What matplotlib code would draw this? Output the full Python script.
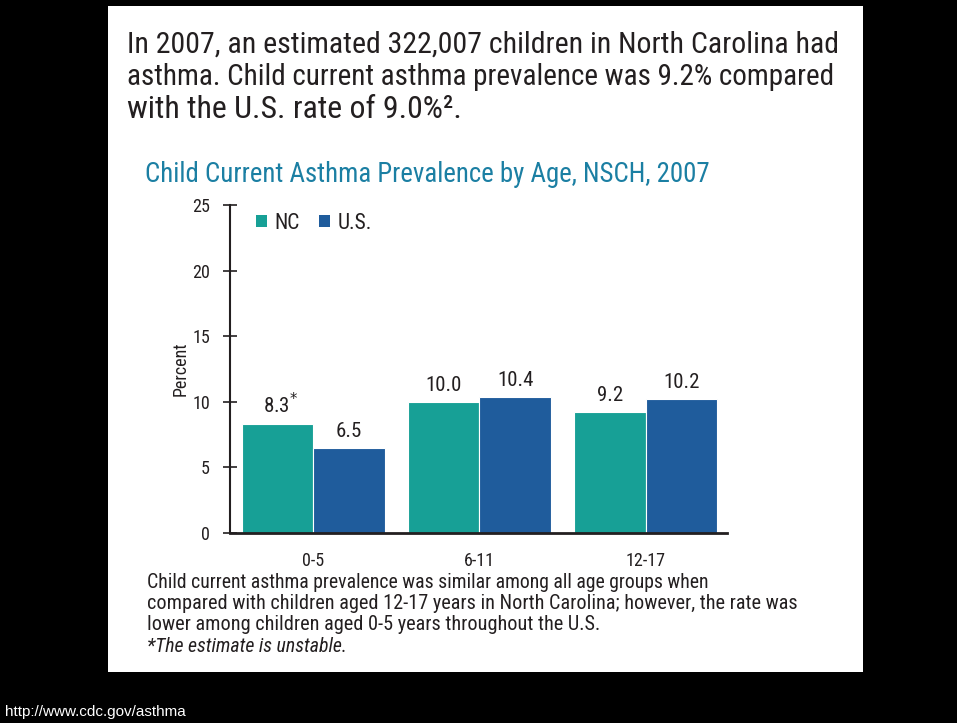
import matplotlib
matplotlib.use("Agg")
import matplotlib.pyplot as plt
from matplotlib import font_manager
from matplotlib.patches import Rectangle, Patch

# Data
age_groups = ["0-5", "6-11", "12-17"]
nc_values = [8.3, 10.0, 9.2]
us_values = [6.5, 10.4, 10.2]
nc_flags = ["*", "", ""]
y_ticks = [0, 5, 10, 15, 20, 25]

available = {f.name for f in font_manager.fontManager.ttflist}
preferred = ["Liberation Sans Narrow", "Roboto Condensed", "Open Sans Condensed",
             "Noto Sans Condensed", "Lato", "Roboto", "Open Sans"]
body_font = next((f for f in preferred if f in available), "DejaVu Sans")
plt.rcParams["font.family"] = [body_font, "DejaVu Sans"]

NC_COLOR = "#17a096"
US_COLOR = "#1f5c9c"
TEXT = "#231f20"
TITLE_COLOR = "#1b7fa3"

W, H = 957, 723
fig = plt.figure(figsize=(W / 100, H / 100), dpi=100, facecolor="black")
renderer = fig.canvas.get_renderer()


def fitted_text(x_px, y_px, s, target_px, size, **kw):
    """Place a line of text and scale its size so it spans target_px."""
    t = fig.text(x_px / W, 1 - y_px / H, s, fontsize=size, va="center", ha="left",
                 zorder=3, **kw)
    w = t.get_window_extent(renderer).width
    if w > 0:
        t.set_fontsize(size * target_px / w)
    return t


# White page panel
fig.patches.append(Rectangle((108 / W, 1 - 672 / H), (863 - 108) / W, (672 - 6) / H,
                             transform=fig.transFigure, facecolor="white",
                             edgecolor="none", zorder=-5))

# Header paragraph
header = ["In 2007, an estimated 322,007 children in North Carolina had",
          "asthma. Child current asthma prevalence was 9.2% compared",
          "with the U.S. rate of 9.0%\u00b2."]
header_w = [713, 708, 335]
for i, (line, tw) in enumerate(zip(header, header_w)):
    fitted_text(127, 45 + 32 * i, line, tw, 19, color=TEXT)

fitted_text(145, 175, "Child Current Asthma Prevalence by Age, NSCH, 2007", 565, 17,
            color=TITLE_COLOR)

# Chart axes
ax = fig.add_axes([230 / W, 1 - 533 / H, (727 - 230) / W, (533 - 205) / H])
ax.set_zorder(2)
ax.set_facecolor("none")

width = 0.43
x = list(range(len(age_groups)))
nc_x = [i - width / 2 for i in x]
us_x = [i + width / 2 for i in x]
ax.bar(nc_x, nc_values, width=width, color=NC_COLOR, edgecolor="white", linewidth=0.8, zorder=2)
ax.bar(us_x, us_values, width=width, color=US_COLOR, edgecolor="white", linewidth=0.8, zorder=2)

for xi, v, flag in zip(nc_x, nc_values, nc_flags):
    ax.annotate(f"{v:.1f}" + (f"$^{{{flag}}}$" if flag else ""), (xi, v),
                xytext=(2 if flag else 0, 5), textcoords="offset points",
                ha="center", va="bottom", fontsize=15, color=TEXT)
for xi, v in zip(us_x, us_values):
    ax.annotate(f"{v:.1f}", (xi, v), xytext=(0, 5), textcoords="offset points",
                ha="center", va="bottom", fontsize=15, color=TEXT)

ax.set_xlim(-0.5, 2.49)
ax.set_ylim(0, 25)
ax.set_yticks(y_ticks)
ax.set_xticks(x)
ax.set_xticklabels(age_groups)
ax.tick_params(axis="x", length=0, pad=14, labelsize=13, colors=TEXT)
ax.tick_params(axis="y", direction="inout", length=10, width=1.2, pad=9.5,
               labelsize=13, colors=TEXT)
for side in ["top", "right"]:
    ax.spines[side].set_visible(False)
ax.spines["left"].set_linewidth(1.5)
ax.spines["bottom"].set_linewidth(2)
ax.spines["left"].set_color(TEXT)
ax.spines["bottom"].set_color(TEXT)
ax.set_ylabel("Percent", fontsize=13, color=TEXT, labelpad=2)

handles = [Patch(facecolor=NC_COLOR, label="NC"), Patch(facecolor=US_COLOR, label="U.S.")]
ax.legend(handles=handles, loc="center left", bbox_to_anchor=(0.052, 0.945), ncol=2,
          frameon=False, handlelength=0.5, handleheight=0.5, handletextpad=0.35,
          columnspacing=0.9, fontsize=15.5, labelcolor=TEXT, borderpad=0,
          borderaxespad=0)

# Caption
caption = ["Child current asthma prevalence was similar among all age groups when",
           "compared with children aged 12-17 years in North Carolina; however, the rate was",
           "lower among children aged 0-5 years throughout the U.S."]
caption_w = [560, 646, 450]
for i, (line, tw) in enumerate(zip(caption, caption_w)):
    fitted_text(147, 582 + 21.5 * i, line, tw, 13, color=TEXT)
fitted_text(147, 647, "*The estimate is unstable.", 200, 13, color=TEXT, style="italic")

fig.text(5 / W, 1 - 712 / H, "http://www.cdc.gov/asthma", fontsize=11, color="white",
         va="center", ha="left", family="Liberation Sans")

fig.savefig("out.png", dpi=100, facecolor="black")
